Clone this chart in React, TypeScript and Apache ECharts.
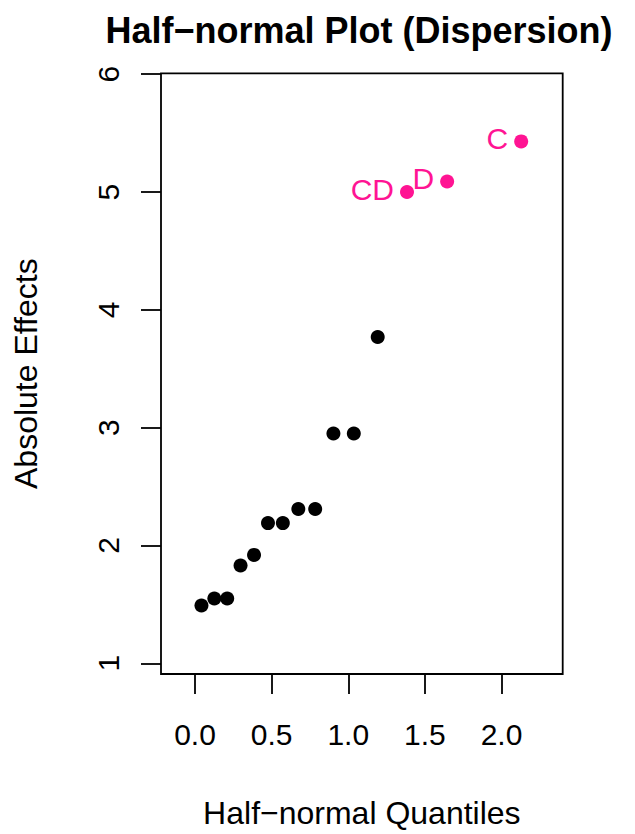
import React, { useEffect, useRef } from "react";
import * as echarts from "echarts";

// Half-normal quantiles (x) and absolute effects (y)
const quantiles = [0.042, 0.126, 0.21, 0.297, 0.385, 0.476, 0.573, 0.674, 0.784, 0.903, 1.036, 1.192, 1.383, 1.645, 2.128];
const effects = [1.49, 1.55, 1.55, 1.83, 1.92, 2.19, 2.19, 2.31, 2.31, 2.95, 2.95, 3.77, 5.0, 5.09, 5.43];
const effectLabels = ["", "", "", "", "", "", "", "", "", "", "", "", "CD", "D", "C"];
const significant = [false, false, false, false, false, false, false, false, false, false, false, false, true, true, true];

const xTicks = [0, 0.5, 1, 1.5, 2];
const yTicks = [1, 2, 3, 4, 5, 6];

const X_MIN = -0.222;
const X_MAX = 2.399;
const Y_MIN = 0.909;
const Y_MAX = 6.008;

const FONT = "'Liberation Sans', Arial, Helvetica, sans-serif";
const PINK = "#FF1493";

export default function App() {
  const ref = useRef<HTMLDivElement>(null);

  useEffect(() => {
    document.body.style.margin = "0";
    if (!ref.current) return;
    const chart = echarts.init(ref.current, undefined, { renderer: "svg" });

    const normal: any[] = [];
    const sig: any[] = [];
    quantiles.forEach((q, i) => {
      const item = { value: [q, effects[i]], name: effectLabels[i] };
      if (significant[i]) sig.push(item);
      else normal.push(item);
    });

    const gridLeft = 161;
    const gridTop = 73.3;
    const gridWidth = 401.7;
    const gridHeight = 609.4;

    chart.setOption({
      animation: false,
      backgroundColor: "#ffffff",
      title: {
        text: "Half\u2212normal Plot (Dispersion)",
        left: 354,
        textAlign: "center",
        top: 7,
        textStyle: { fontFamily: FONT, fontWeight: "bold", fontSize: 36, color: "#000" },
      },
      grid: {
        left: gridLeft,
        top: gridTop,
        width: gridWidth,
        height: gridHeight,
        show: true,
        borderColor: "#000",
        borderWidth: 1.8,
        backgroundColor: "transparent",
      },
      xAxis: {
        type: "value",
        min: X_MIN,
        max: X_MAX,
        name: "Half\u2212normal Quantiles",
        nameLocation: "middle",
        nameGap: 123,
        nameTextStyle: { fontFamily: FONT, fontSize: 32, color: "#000" },
        axisLine: { show: false, onZero: false },
        splitLine: { show: false },
        axisTick: {
          show: true,
          customValues: xTicks,
          length: 20,
          lineStyle: { color: "#000", width: 1.8 },
        },
        axisLabel: {
          show: true,
          customValues: xTicks,
          formatter: (v: number) => v.toFixed(1),
          margin: 45,
          fontFamily: FONT,
          fontSize: 30,
          color: "#000",
        },
      },
      yAxis: {
        type: "value",
        min: Y_MIN,
        max: Y_MAX,
        name: "Absolute Effects",
        nameLocation: "middle",
        nameRotate: 90,
        nameGap: 119,
        nameTextStyle: { fontFamily: FONT, fontSize: 32, color: "#000" },
        axisLine: { show: false, onZero: false },
        splitLine: { show: false },
        axisTick: {
          show: true,
          customValues: yTicks,
          length: 20,
          lineStyle: { color: "#000", width: 1.8 },
        },
        axisLabel: {
          show: true,
          customValues: yTicks,
          formatter: (v: number) => String(v),
          rotate: 90,
          margin: 38,
          fontFamily: FONT,
          fontSize: 30,
          color: "#000",
        },
      },
      series: [
        {
          type: "scatter",
          data: normal,
          symbol: "circle",
          symbolSize: 14,
          itemStyle: { color: "#000", opacity: 1 },
        },
        {
          type: "scatter",
          data: sig,
          symbol: "circle",
          symbolSize: 14,
          itemStyle: { color: PINK, opacity: 1 },
          label: {
            show: true,
            position: "left",
            distance: 6,
            offset: [0, -3],
            formatter: (p: any) => p.name,
            fontFamily: FONT,
            fontSize: 30,
            color: PINK,
            opacity: 1,
          },
        },
      ],
    });

    return () => {
      chart.dispose();
    };
  }, []);

  return <div ref={ref} style={{ width: 635, height: 834 }} />;
}
